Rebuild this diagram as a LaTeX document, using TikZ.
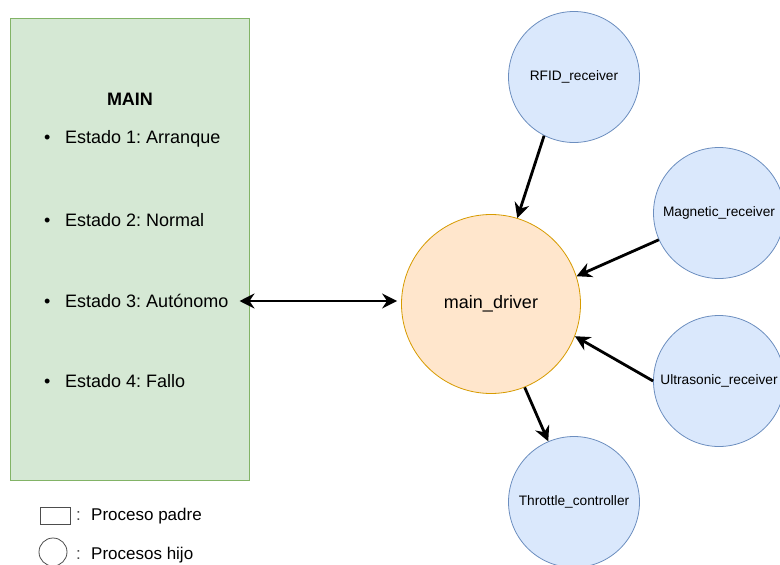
\documentclass[tikz,border=0pt]{standalone}
\usepackage{fontspec}
\setmainfont{Liberation Sans}
\usetikzlibrary{arrows.meta}
\frenchspacing

\definecolor{greenfill}{HTML}{D5E8D4}
\definecolor{greenline}{HTML}{82B366}
\definecolor{bluefill}{HTML}{DAE8FC}
\definecolor{blueline}{HTML}{6C8EBF}
\definecolor{orangefill}{HTML}{FFE6CC}
\definecolor{orangeline}{HTML}{D79B00}
\definecolor{legendline}{HTML}{4D4D4D}

\begin{document}
\begin{tikzpicture}[
    x=1pt, y=-1pt,
    >={Stealth[length=15pt, width=15pt, inset=5pt]},
    panel/.style={draw=greenline, fill=greenfill, line width=0.8pt, inner sep=0pt, minimum width=239pt, minimum height=462pt},
    proc/.style={circle, draw=blueline, fill=bluefill, line width=0.8pt, inner sep=0pt, minimum size=131pt, font=\fontsize{13.7}{16}\selectfont},
    driver/.style={circle, draw=orangeline, fill=orangefill, line width=0.8pt, inner sep=0pt, minimum size=179pt, font=\fontsize{18}{21}\selectfont},
    item/.style={anchor=west, inner sep=0pt, font=\fontsize{18}{21}\selectfont},
    legend/.style={anchor=west, inner sep=0pt, font=\fontsize{17}{20}\selectfont},
    sep/.style={anchor=west, inner sep=0pt, text=legendline, font=\fontsize{17}{20}\selectfont},
    link/.style={->, line width=2.8pt}
]
\useasboundingbox (0,0) rectangle (780,565);

% Parent process
\node[panel] (mainbox) at (129.5,249) {};
\node[font=\bfseries\fontsize{18}{21}\selectfont] (title) at (130,99) {MAIN};
\node[item] (st1) at (44,139) {\makebox[21pt][l]{\textbullet}Estado 1: Arranque};
\node[item] (st2) at (44,220) {\makebox[21pt][l]{\textbullet}Estado 2: Normal};
\node[item] (st3) at (44,301) {\makebox[21pt][l]{\textbullet}Estado 3: Autónomo};
\node[item] (st4) at (44,381) {\makebox[21pt][l]{\textbullet}Estado 4: Fallo};

% Child processes
\node[driver] (driver) at (491,304) {main\_driver};
\node[proc] (rfid) at (574,77) {RFID\_receiver};
\node[proc] (magnetic) at (719,213) {Magnetic\_receiver};
\node[proc] (ultrasonic) at (719,381) {Ultrasonic\_receiver};
\node[proc] (throttle) at (574,502) {Throttle\_controller};

% Connections
\draw[link, <->, shorten >=4pt] ([xshift=11pt]st3.east) -- (st3.east -| driver.west);
\draw[link] (rfid.243) -- (driver.73);
\draw[link] (magnetic.204) -- (driver.18);
\draw[link] (ultrasonic.west) -- (driver.339);
\draw[link] (driver.292) -- (throttle.113);

% Legend
\node[draw=legendline, fill=white, line width=0.8pt, inner sep=0pt, minimum width=30pt, minimum height=17pt] (legrect) at (55,516) {};
\node[sep] (legcolon1) at (76,516) {:};
\node[legend] (legtext1) at (91,516) {Proceso padre};
\node[circle, draw=legendline, fill=white, line width=0.8pt, inner sep=0pt, minimum size=28pt] (legcirc) at (53,552) {};
\node[sep] (legcolon2) at (76,555) {:};
\node[legend] (legtext2) at (91,555) {Procesos hijo};

\end{tikzpicture}
\end{document}
